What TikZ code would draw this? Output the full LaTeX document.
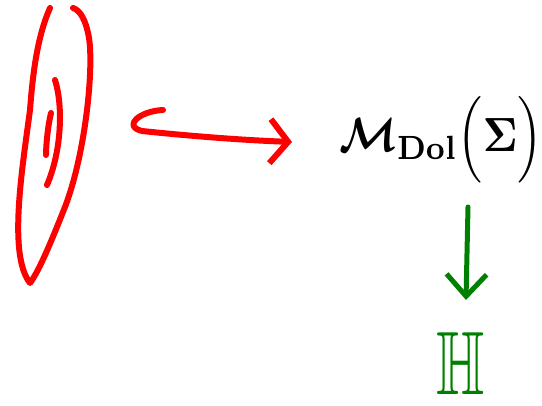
\documentclass[tikz,border=0pt]{standalone}
\usepackage{amsmath,amssymb}
\usetikzlibrary{arrows.meta}
\definecolor{penred}{RGB}{255,0,0}
\definecolor{pengreen}{RGB}{0,128,0}
\begin{document}
\begin{tikzpicture}[x=1pt,y=-1pt,
  redpen/.style={draw=penred,line width=6pt,line cap=round,line join=round},
  greenpen/.style={draw=pengreen,line width=5pt,line cap=round,line join=round},
  bigtext/.style={inner sep=0pt}]
\useasboundingbox (0,0) rectangle (542,406);
% disc (ellipse with cut)
\path[redpen] (50,8) .. controls (38,35) and (33,70) .. (30,110)
  .. controls (22,170) and (8,255) .. (30,283)
  .. controls (40,270) and (55,232) .. (65,207)
  .. controls (85,155) and (94,70) .. (89,38)
  .. controls (86,20) and (80,10) .. (73,8);
\path[redpen] (55,80) .. controls (63,105) and (62,150) .. (47,185);
\path[redpen] (51,113) .. controls (48,125) and (46,145) .. (46,155);
% target
\node[bigtext,xscale=4.2,yscale=4.8] (M) at (441,140) {$\boldsymbol{\mathcal{M}}_{\mathbf{Dol}}\Bigl(\boldsymbol{\Sigma}\Bigr)$};
\node[bigtext,text=pengreen,xscale=6.2,yscale=9] (H) at (461,364) {$\mathbb{H}$};
% hook arrow
\coordinate (hs) at (163,110);
\coordinate (he) at (292,142);
\draw[redpen,-{Straight Barb[length=18pt,width=44pt]}] (hs)
  .. controls (140,111) and (122,126) .. (142,131)
  .. controls (190,136) and (240,140) .. (he);
% green arrow
\coordinate (gs) at (468,207);
\coordinate (ge) at (466,300);
\draw[greenpen,-{Straight Barb[length=22pt,width=40pt]}] (gs) -- (ge);
\end{tikzpicture}
\end{document}
